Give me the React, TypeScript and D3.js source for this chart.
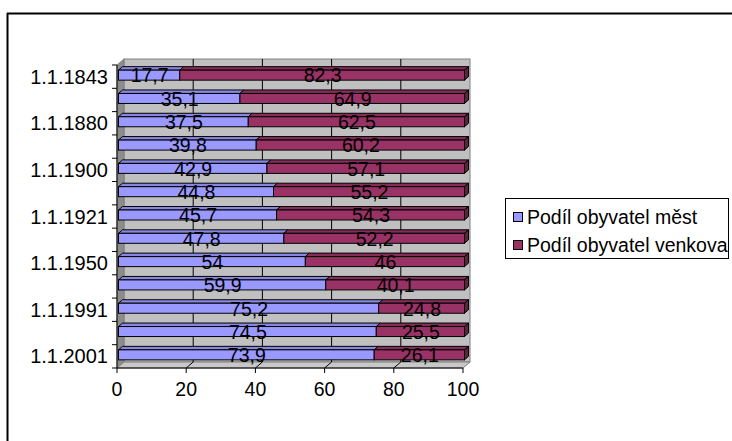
import React from "react";
import * as d3 from "d3";

const categories = ["1.1.1843","1.1.1869","1.1.1880","1.1.1890","1.1.1900","1.1.1910","1.1.1921","1.1.1930","1.1.1950","1.1.1970","1.1.1991","1.1.1996","1.1.2001"];
const mesto = [17.7,35.1,37.5,39.8,42.9,44.8,45.7,47.8,54,59.9,75.2,74.5,73.9];
const venkov = [82.3,64.9,62.5,60.2,57.1,55.2,54.3,52.2,46,40.1,24.8,25.5,26.1];
const xTicks = [0,20,40,60,80,100];
const seriesNames = ["Podíl obyvatel měst","Podíl obyvatel venkova"];
const seriesColors = ["#9999FF","#993366"];

const W = 732, H = 441;
const FX0 = 117, FX1 = 463, FY0 = 65, FY1 = 368;
const DX = 7, DY = 6; // wall depth
const BDX = 4, BDY = 3.5; // bar depth
const BOX = 1.5, BOY = -1.5; // bar front offset
const BAR_H = 10;
const FONT = "'Liberation Sans', Arial, sans-serif";

const fmt = (v: number) => String(v).replace(".", ",");

export default function App() {
  const x = d3.scaleLinear().domain([0, 100]).range([FX0, FX1]);
  const y = d3.scaleBand<string>().domain(categories).range([FY0, FY1]);
  const bw = y.bandwidth();

  const stacked = categories.map((c, i) => {
    const vals = [mesto[i], venkov[i]];
    let acc = 0;
    return vals.map((v, s) => {
      const seg = { c, s, v, x0: acc, x1: acc + v };
      acc += v;
      return seg;
    });
  });

  const poly = (pts: [number, number][]) => pts.map(p => p.join(",")).join(" ");

  return (
    <div style={{ position: "fixed", left: 0, top: 0 }}>
      <svg width={W} height={H} style={{ display: "block", background: "#fff" }}>
        {/* outer frame */}
        <line x1={7} y1={13.5} x2={W} y2={13.5} stroke="#000" strokeWidth={2} />
        <line x1={7.5} y1={13} x2={7.5} y2={H} stroke="#000" strokeWidth={2} />

        {/* back wall */}
        <rect x={FX0 + DX} y={FY0 - DY} width={FX1 - FX0} height={FY1 - FY0} fill="#C0C0C0" stroke="#808080" strokeWidth={1} />
        {/* side wall */}
        <polygon points={poly([[FX0, FY0],[FX0 + DX, FY0 - DY],[FX0 + DX, FY1 - DY],[FX0, FY1]])} fill="#8C8C8C" stroke="#808080" strokeWidth={1} />
        {/* floor */}
        <polygon points={poly([[FX0, FY1],[FX0 + DX, FY1 - DY],[FX1 + DX, FY1 - DY],[FX1, FY1]])} fill="#C8C8C8" stroke="#808080" strokeWidth={1} />

        {/* gridlines on wall and floor */}
        {xTicks.slice(1, -1).map(t => (
          <g key={"g" + t}>
            <line x1={x(t) + DX} y1={FY0 - DY} x2={x(t) + DX} y2={FY1 - DY} stroke="#000" strokeWidth={1} />
            <line x1={x(t) + DX} y1={FY1 - DY} x2={x(t)} y2={FY1} stroke="#000" strokeWidth={1} />
          </g>
        ))}

        {/* axes */}
        <line x1={FX0} y1={FY0} x2={FX0} y2={FY1} stroke="#000" strokeWidth={1} />
        <line x1={FX0} y1={FY1} x2={FX1} y2={FY1} stroke="#000" strokeWidth={1} />
        {xTicks.map(t => (
          <g key={"xt" + t}>
            <line x1={x(t)} y1={FY1} x2={x(t)} y2={FY1 + 5} stroke="#000" />
            <text x={x(t)} y={FY1 + 28} textAnchor="middle" fontFamily={FONT} fontSize={19.5} fill="#000">{t}</text>
          </g>
        ))}
        {categories.map((c, i) => (
          <line key={"yt" + i} x1={FX0 - 5} y1={FY0 + i * bw} x2={FX0} y2={FY0 + i * bw} stroke="#000" />
        ))}
        <line x1={FX0 - 5} y1={FY1} x2={FX0} y2={FY1} stroke="#000" />
        {categories.map((c, i) => i % 2 === 0 ? (
          <text key={"yl" + i} x={108} y={(y(c) as number) + bw / 2} dy="0.35em" textAnchor="end" fontFamily={FONT} fontSize={20} fill="#000">{c}</text>
        ) : null)}

        {/* bars */}
        {stacked.map((segs, i) => {
          const yc = (y(categories[i]) as number) + bw / 2;
          const yt = yc - BAR_H / 2 + BOY;
          const yb = yt + BAR_H;
          return (
            <g key={"b" + i}>
              {segs.map(sg => {
                const X0 = x(sg.x0) + BOX, X1 = x(sg.x1) + BOX;
                const col = d3.color(seriesColors[sg.s])!;
                return (
                  <g key={sg.s}>
                    <polygon points={poly([[X0, yt],[X0 + BDX, yt - BDY],[X1 + BDX, yt - BDY],[X1, yt]])} fill={col.darker(0.35).toString()} stroke="#000" strokeWidth={1} strokeLinejoin="round" />
                    <rect x={X0} y={yt} width={X1 - X0} height={BAR_H} fill={seriesColors[sg.s]} stroke="#000" strokeWidth={1} />
                    {sg.s === segs.length - 1 && (
                      <polygon points={poly([[X1, yt],[X1 + BDX, yt - BDY],[X1 + BDX, yb - BDY],[X1, yb]])} fill={col.darker(1.3).toString()} stroke="#000" strokeWidth={1} />
                    )}
                  </g>
                );
              })}
            </g>
          );
        })}

        {/* data labels */}
        {stacked.map((segs, i) => {
          const yc = (y(categories[i]) as number) + bw / 2;
          return segs.map(sg => (
            <text key={"l" + i + "-" + sg.s} x={x((sg.x0 + sg.x1) / 2) + 2} y={yc - 1} dy="0.35em" textAnchor="middle" fontFamily={FONT} fontSize={19.5} fill="#000">{fmt(sg.v)}</text>
          ));
        })}

        {/* legend */}
        <rect x={505.5} y={198.5} width={223} height={60} fill="#fff" stroke="#000" strokeWidth={1} />
        {seriesNames.map((n, k) => (
          <g key={"lg" + k}>
            <rect x={513.5} y={212.5 + k * 28} width={9} height={9} fill={seriesColors[k]} stroke="#000" strokeWidth={1} />
            <text x={527} y={217 + k * 28} dy="0.35em" fontFamily={FONT} fontSize={19.5} fill="#000">{n}</text>
          </g>
        ))}
      </svg>
    </div>
  );
}
